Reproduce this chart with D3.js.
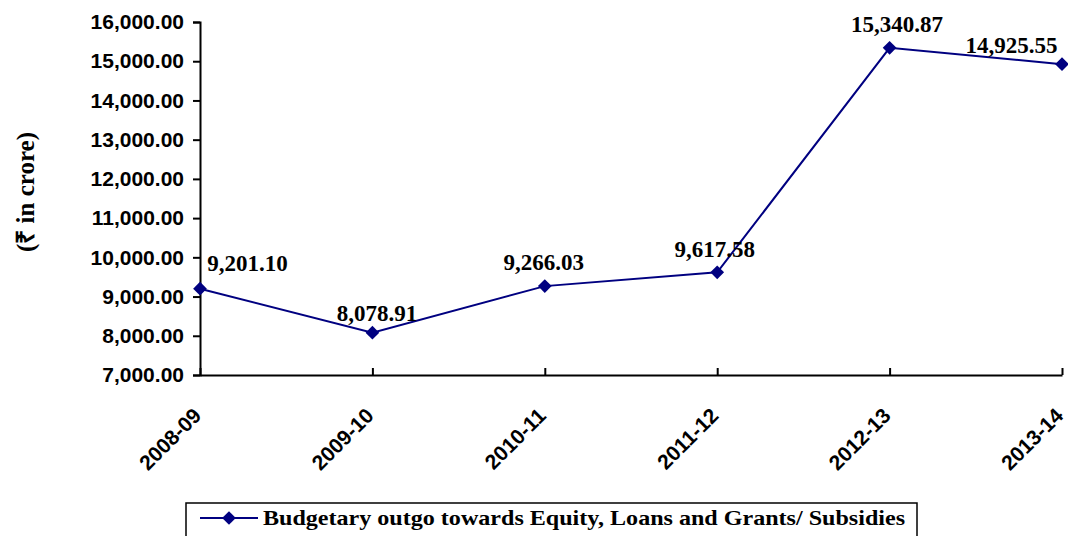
<!DOCTYPE html>
<html><head><meta charset="utf-8">
<script src="https://cdn.jsdelivr.net/npm/d3@7"></script>
<style>body{margin:0;background:#fff}svg{display:block}</style>
</head><body>
<svg id="c" width="1068" height="536"></svg>
<script>
const categories = ["2008-09","2009-10","2010-11","2011-12","2012-13","2013-14"];
const values = [9201.10, 8078.91, 9266.03, 9617.58, 15340.87, 14925.55];
const yTicks = [7000,8000,9000,10000,11000,12000,13000,14000,15000,16000];
const seriesName = "Budgetary outgo towards Equity, Loans and Grants/ Subsidies";
const yTitle = "(₹ in crore)";

const svg = d3.select("#c");
const x = d3.scalePoint().domain(categories).range([200,1062]).padding(0);
const y = d3.scaleLinear().domain([7000,16000]).range([375,22]);
const fmt = d3.format(",.2f");
const navy = "#000080";
const sans = "'Liberation Sans',Arial,sans-serif";
const serif = "'Liberation Serif','Times New Roman',serif";

// Y axis
const ya = svg.append("g").attr("transform","translate(200,0)")
  .call(d3.axisLeft(y).tickValues(yTicks).tickFormat(fmt).tickSize(7).tickPadding(9));
ya.select(".domain").attr("stroke","#000").attr("stroke-width",2);
ya.selectAll(".tick line").attr("stroke","#000").attr("stroke-width",2);
ya.selectAll(".tick text").attr("font-family",sans)
  .attr("font-weight","bold").attr("font-size",21).attr("fill","#000");

// X axis
const xa = svg.append("g").attr("transform","translate(0,375)")
  .call(d3.axisBottom(x).tickSize(-7).tickSizeOuter(0).tickPadding(0));
xa.select(".domain").attr("stroke","#000").attr("stroke-width",2);
xa.selectAll(".tick line").attr("stroke","#000").attr("stroke-width",2);
xa.selectAll(".tick text").attr("font-family",sans)
  .attr("font-weight","bold").attr("font-size",21).attr("fill","#000")
  .attr("text-anchor","end").attr("dy",null).attr("y",0)
  .attr("transform","translate(2,42) rotate(-45)");

// Y title
svg.append("text").attr("transform","translate(34,192) rotate(-90)")
  .attr("text-anchor","middle").attr("font-family",serif)
  .attr("font-weight","bold").attr("font-size",25).text(yTitle);

// Line
const line = d3.line().x((d,i)=>x(categories[i])).y(d=>y(d));
svg.append("path").datum(values).attr("d",line).attr("fill","none")
  .attr("stroke",navy).attr("stroke-width",2);

const sym = d3.symbol().type(d3.symbolDiamond2).size(120);
svg.selectAll(".pt").data(values).enter().append("path")
  .attr("transform",(d,i)=>`translate(${x(categories[i])},${y(d)})`)
  .attr("d",sym).attr("fill",navy);

// Data labels (placement offsets relative to each point)
const dxs = [47.5,4.5,-1,-2.5,7.5,-50.5];
const dys = [18,12,16,15,16,11];
svg.selectAll(".lbl").data(values).enter().append("text")
  .attr("x",(d,i)=>x(categories[i])+dxs[i]).attr("y",(d,i)=>y(d)-dys[i])
  .attr("text-anchor","middle").attr("font-family",serif)
  .attr("font-weight","bold").attr("font-size",23).attr("fill","#000").text(d=>fmt(d));

// Legend
const lg = svg.append("g");
lg.append("rect").attr("x",186).attr("y",503).attr("width",731).attr("height",40)
  .attr("fill","#fff").attr("stroke","#000").attr("stroke-width",1.5);
lg.append("line").attr("x1",200).attr("x2",258).attr("y1",518).attr("y2",518)
  .attr("stroke",navy).attr("stroke-width",2);
lg.append("path").attr("transform","translate(229,518)").attr("d",sym).attr("fill",navy);
lg.append("text").attr("x",263).attr("y",525).attr("font-family",serif)
  .attr("font-weight","bold").attr("font-size",21).attr("textLength",642).attr("lengthAdjust","spacingAndGlyphs")
  .text(seriesName);
</script>
</body></html>
